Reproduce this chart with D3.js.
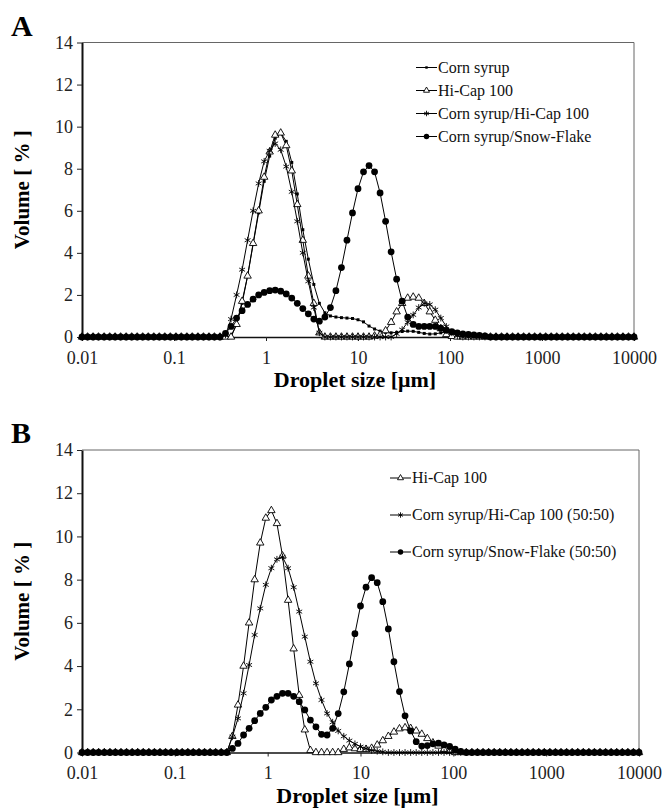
<!doctype html>
<html>
<head>
<meta charset="utf-8">
<title>Droplet size distributions</title>
<script src="https://cdnjs.cloudflare.com/ajax/libs/d3/7.8.5/d3.min.js"></script>
<style>
  body { margin: 0; background: #fff; }
</style>
</head>
<body>
<svg id="chart" width="665" height="812"></svg>
<script>
// size classes of the analyser, in µm (0.01 .. 10000)
const sizeClasses = [
  0.01, 0.0115, 0.0132, 0.0151, 0.0174, 0.02, 0.0229, 0.0263, 0.0302, 0.0347,
  0.0398, 0.0457, 0.0525, 0.0603, 0.0692, 0.0794, 0.0912, 0.105, 0.12, 0.138,
  0.158, 0.182, 0.209, 0.24, 0.275, 0.316, 0.363, 0.417, 0.479, 0.55,
  0.631, 0.724, 0.832, 0.955, 1.096, 1.259, 1.445, 1.66, 1.905, 2.188,
  2.512, 2.884, 3.311, 3.802, 4.365, 5.012, 5.754, 6.607, 7.586, 8.71,
  10, 11.48, 13.18, 15.14, 17.38, 19.95, 22.91, 26.3, 30.2, 34.67,
  39.81, 45.71, 52.48, 60.26, 69.18, 79.43, 91.2, 104.7, 120.2, 138,
  158.5, 182, 208.9, 239.9, 275.4, 316.2, 363.1, 416.9, 478.6, 549.5,
  631, 724.4, 831.8, 955, 1096, 1259, 1445, 1660, 1905, 2188,
  2512, 2884, 3311, 3802, 4365, 5012, 5754, 6607, 7586, 8710,
  10000
];

const xTicks = [0.01, 0.1, 1, 10, 100, 1000, 10000];
const yTicks = [0, 2, 4, 6, 8, 10, 12, 14];

// ---- panel A ----
const aCornSyrup = [
  0, 0, 0, 0, 0, 0, 0, 0, 0, 0,
  0, 0, 0, 0, 0, 0, 0, 0, 0, 0,
  0, 0, 0, 0, 0, 0, 0, 0.05, 0.6, 1.6,
  2.9, 4.4, 5.9, 7.4, 8.6, 9.45, 9.7, 9.3, 8.3, 6.8,
  5.1, 3.7, 2.5, 1.6, 1.15, 1.0, 0.95, 0.92, 0.9, 0.88,
  0.82, 0.72, 0.52, 0.38, 0.28, 0.22, 0.2, 0.22, 0.26, 0.28,
  0.27, 0.22, 0.17, 0.14, 0.15, 0.2, 0.24, 0.22, 0.15, 0.08,
  0.03, 0, 0, 0, 0, 0, 0, 0, 0, 0,
  0, 0, 0, 0, 0, 0, 0, 0, 0, 0,
  0, 0, 0, 0, 0, 0, 0, 0, 0, 0,
  0
];
const aHiCap = [
  0, 0, 0, 0, 0, 0, 0, 0, 0, 0,
  0, 0, 0, 0, 0, 0, 0, 0, 0, 0,
  0, 0, 0, 0, 0, 0, 0, 0, 0.6, 1.7,
  2.9, 4.45, 6.0, 7.6, 8.8, 9.6, 9.7, 9.1, 7.9, 6.3,
  4.6, 2.9, 1.6, 0.2, 0, 0, 0, 0, 0, 0,
  0, 0, 0, 0.05, 0.1, 0.3, 0.7, 1.2, 1.6, 1.85,
  1.9, 1.85, 1.6, 1.2, 0.8, 0.4, 0.12, 0.03, 0, 0,
  0, 0, 0, 0, 0, 0, 0, 0, 0, 0,
  0, 0, 0, 0, 0, 0, 0, 0, 0, 0,
  0, 0, 0, 0, 0, 0, 0, 0, 0, 0,
  0
];
const aCornHiCap = [
  0, 0, 0, 0, 0, 0, 0, 0, 0, 0,
  0, 0, 0, 0, 0, 0, 0, 0, 0, 0,
  0, 0, 0, 0, 0, 0, 0.1, 0.85, 2.0, 3.2,
  4.6, 6.0, 7.3, 8.35, 8.85, 9.2, 8.9, 8.1, 6.9, 5.5,
  4.0, 2.65, 1.4, 0.2, 0, 0, 0, 0, 0, 0,
  0, 0, 0, 0, 0, 0, 0, 0.15, 0.35, 0.7,
  1.05, 1.4, 1.6, 1.55, 1.3, 0.9, 0.5, 0.2, 0.05, 0,
  0, 0, 0, 0, 0, 0, 0, 0, 0, 0,
  0, 0, 0, 0, 0, 0, 0, 0, 0, 0,
  0, 0, 0, 0, 0, 0, 0, 0, 0, 0,
  0
];
const aCornSnow = [
  0, 0, 0, 0, 0, 0, 0, 0, 0, 0,
  0, 0, 0, 0, 0, 0, 0, 0, 0, 0,
  0, 0, 0, 0, 0, 0, 0.17, 0.5, 0.9, 1.25,
  1.55, 1.8, 2.0, 2.12, 2.2, 2.23, 2.18, 2.05, 1.85, 1.6,
  1.35, 1.1, 0.85, 0.75, 0.95, 1.4, 2.2, 3.3, 4.6, 5.9,
  7.05, 7.85, 8.15, 7.85, 6.85, 5.5, 4.05, 2.75, 1.7, 0.95,
  0.6, 0.5, 0.5, 0.5, 0.5, 0.42, 0.32, 0.25, 0.2, 0.15,
  0.12, 0.1, 0.08, 0.05, 0, 0, 0, 0, 0, 0,
  0, 0, 0, 0, 0, 0, 0, 0, 0, 0,
  0, 0, 0, 0, 0, 0, 0, 0, 0, 0,
  0
];
const aLabels = ["Corn syrup", "Hi-Cap 100", "Corn syrup/Hi-Cap 100", "Corn syrup/Snow-Flake"];

// ---- panel B ----
const bHiCap = [
  0, 0, 0, 0, 0, 0, 0, 0, 0, 0,
  0, 0, 0, 0, 0, 0, 0, 0, 0, 0,
  0, 0, 0, 0, 0, 0, 0, 0.75, 2.2, 4.0,
  6.0, 8.0, 9.7, 10.85, 11.2, 10.6, 9.1, 7.05, 4.8, 2.65,
  1.05, 0.1, 0, 0, 0, 0, 0, 0.15, 0.22, 0.18,
  0.15, 0.15, 0.2, 0.35, 0.55, 0.75, 0.95, 1.1, 1.15, 1.12,
  1.0, 0.85, 0.65, 0.45, 0.3, 0.15, 0.05, 0, 0, 0,
  0, 0, 0, 0, 0, 0, 0, 0, 0, 0,
  0, 0, 0, 0, 0, 0, 0, 0, 0, 0,
  0, 0, 0, 0, 0, 0, 0, 0, 0, 0,
  0
];
const bCornHiCap = [
  0, 0, 0, 0, 0, 0, 0, 0, 0, 0,
  0, 0, 0, 0, 0, 0, 0, 0, 0, 0,
  0, 0, 0, 0, 0, 0, 0, 0.73, 1.58, 2.74,
  4.05, 5.44, 6.67, 7.76, 8.53, 8.94, 9.05, 8.53, 7.65, 6.52,
  5.36, 4.2, 3.2, 2.43, 1.81, 1.4, 1.0, 0.75, 0.55, 0.4,
  0.27, 0.18, 0.1, 0.06, 0.03, 0, 0, 0, 0, 0,
  0, 0, 0, 0, 0, 0, 0, 0, 0, 0,
  0, 0, 0, 0, 0, 0, 0, 0, 0, 0,
  0, 0, 0, 0, 0, 0, 0, 0, 0, 0,
  0, 0, 0, 0, 0, 0, 0, 0, 0, 0,
  0
];
const bCornSnow = [
  0, 0, 0, 0, 0, 0, 0, 0, 0, 0,
  0, 0, 0, 0, 0, 0, 0, 0, 0, 0,
  0, 0, 0, 0, 0, 0, 0, 0.19, 0.42, 0.81,
  1.12, 1.47, 1.81, 2.09, 2.43, 2.6, 2.74, 2.74, 2.6, 2.35,
  1.97, 1.5, 1.19, 0.84, 0.81, 1.12, 1.8, 2.81, 4.1, 5.5,
  6.78, 7.65, 8.09, 7.86, 6.98, 5.72, 4.2, 2.82, 1.7, 1.0,
  0.5, 0.3, 0.32, 0.4, 0.43, 0.35, 0.28, 0.15, 0.05, 0,
  0, 0, 0, 0, 0, 0, 0, 0, 0, 0,
  0, 0, 0, 0, 0, 0, 0, 0, 0, 0,
  0, 0, 0, 0, 0, 0, 0, 0, 0, 0,
  0
];
const bLabels = ["Hi-Cap 100", "Corn syrup/Hi-Cap 100 (50:50)", "Corn syrup/Snow-Flake (50:50)"];

const serif = "Liberation Serif";

// marker look for each kind
const markers = {
  square:   { type: d3.symbolSquare,   size: 9,  fill: "#000", stroke: "none" },
  triangle: { type: d3.symbolTriangle, size: 24, fill: "#fff", stroke: "#000" },
  asterisk: { type: d3.symbolAsterisk, size: 32, fill: "none", stroke: "#000" },
  circle:   { type: d3.symbolCircle,   size: 36, fill: "#000", stroke: "none" }
};

const svg = d3.select("#chart");

function drawPanel(p) {
  const x = d3.scaleLog().domain([0.01, 10000]).range([p.left, p.right]);
  const y = d3.scaleLinear().domain([0, 14]).range([p.bottom, p.top]);

  // frame: top and right thin grey
  svg.append("line").attr("x1", p.left).attr("x2", p.right).attr("y1", p.top).attr("y2", p.top)
    .attr("stroke", "#666").attr("stroke-width", 1);
  svg.append("line").attr("x1", p.right).attr("x2", p.right).attr("y1", p.top).attr("y2", p.bottom)
    .attr("stroke", "#666").attr("stroke-width", 1);

  const yAxis = svg.append("g").attr("transform", `translate(${p.left},0)`)
    .call(d3.axisLeft(y).tickValues(yTicks).tickSize(5).tickSizeOuter(0).tickPadding(4));
  yAxis.select(".domain").attr("stroke", "#111").attr("stroke-width", 2);

  const xAxis = svg.append("g").attr("transform", `translate(0,${p.bottom})`)
    .call(d3.axisBottom(x).tickValues(xTicks).tickSize(4).tickSizeOuter(0).tickPadding(10)
      .tickFormat(d => String(d)));
  xAxis.select(".domain").attr("stroke", "#111").attr("stroke-width", 1.5);

  [yAxis, xAxis].forEach(ax => {
    ax.attr("font-family", serif).attr("font-size", 18);
    ax.selectAll(".tick line").attr("stroke", "#222");
    ax.selectAll(".tick text").attr("fill", "#222")
      .style("font-family", serif).style("font-size", "18px");
  });

  // series
  const line = d3.line().x(d => x(d.size)).y(d => y(d.v));
  p.series.forEach(s => {
    const pts = sizeClasses.map((size, i) => ({ size: size, v: s.values[i] }));
    svg.append("path").datum(pts).attr("d", line)
      .attr("fill", "none").attr("stroke", "#000").attr("stroke-width", 1);
    const m = markers[s.marker];
    svg.append("g").selectAll("path").data(pts).join("path")
      .attr("transform", d => `translate(${x(d.size)},${y(d.v)})`)
      .attr("d", d3.symbol(m.type, m.size))
      .attr("fill", m.fill).attr("stroke", m.stroke).attr("stroke-width", 0.9);
  });

  // legend
  p.series.forEach((s, i) => {
    const ly = p.legendY + i * p.legendStep;
    svg.append("line").attr("x1", p.legendX).attr("x2", p.legendX + 21)
      .attr("y1", ly).attr("y2", ly).attr("stroke", "#000").attr("stroke-width", 1);
    const m = markers[s.marker];
    svg.append("path").attr("transform", `translate(${p.legendX + 10.5},${ly})`)
      .attr("d", d3.symbol(m.type, m.size * 0.65))
      .attr("fill", m.fill).attr("stroke", m.stroke).attr("stroke-width", 0.9);
    svg.append("text").attr("x", p.legendX + 22).attr("y", ly).attr("dy", "0.33em")
      .style("font-family", serif).style("font-size", "16px").attr("fill", "#111").text(s.label);
  });

  // panel letter and axis titles
  svg.append("text").attr("x", 11).attr("y", p.top - 7)
    .style("font-family", serif).style("font-size", "30px").style("font-weight", "bold").text(p.id);

  svg.append("text").attr("x", (p.left + p.right) / 2 - 3).attr("y", p.bottom + 50)
    .attr("text-anchor", "middle")
    .style("font-family", serif).style("font-size", "22px").style("font-weight", "bold")
    .text("Droplet size [μm]");

  svg.append("text")
    .attr("transform", `translate(29,${(p.top + p.bottom) / 2}) rotate(-90)`)
    .attr("text-anchor", "middle")
    .style("font-family", serif).style("font-size", "21px").style("font-weight", "bold")
    .text("Volume [ % ]");
}

drawPanel({
  id: "A", left: 82, right: 634, top: 42.5, bottom: 337,
  legendX: 416, legendY: 67.5, legendStep: 23,
  series: [
    { label: aLabels[0], values: aCornSyrup, marker: "square" },
    { label: aLabels[1], values: aHiCap, marker: "triangle" },
    { label: aLabels[2], values: aCornHiCap, marker: "asterisk" },
    { label: aLabels[3], values: aCornSnow, marker: "circle" }
  ]
});

drawPanel({
  id: "B", left: 82, right: 639, top: 450, bottom: 752.5,
  legendX: 390, legendY: 478, legendStep: 37,
  series: [
    { label: bLabels[0], values: bHiCap, marker: "triangle" },
    { label: bLabels[1], values: bCornHiCap, marker: "asterisk" },
    { label: bLabels[2], values: bCornSnow, marker: "circle" }
  ]
});
</script>
</body>
</html>
